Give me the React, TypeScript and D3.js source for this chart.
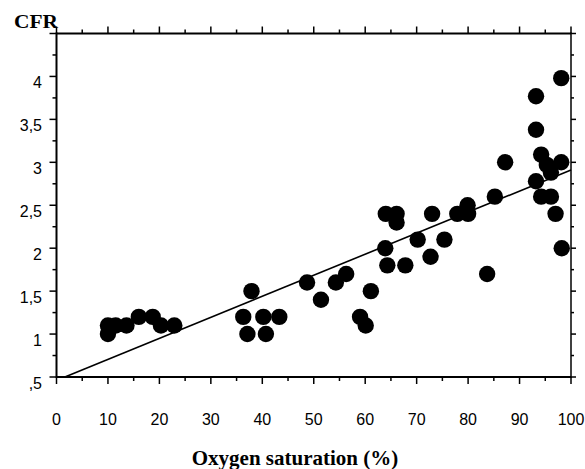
import React from "react";
import * as d3 from "d3";

const oxygenSat: number[] = [
  10, 10, 11.5, 13.6, 16, 18.7, 20.3, 22.9,
  37.9, 36.3, 37.1, 40.2, 40.7, 43.3,
  48.7, 51.4, 54.3, 56.3, 59, 60.1, 61.1,
  63.9, 64.3, 64.0, 66.1, 66.1, 67.8, 70.2, 72.7, 73.0, 75.4, 77.9, 80.0, 79.9, 83.7, 85.2,
  87.2, 93.2, 93.2, 93.2, 94.2, 95.3, 96.1, 98.1, 98.1, 94.2, 96.1, 97.0, 98.2,
];
const cfr: number[] = [
  1.1, 1.0, 1.1, 1.1, 1.2, 1.2, 1.1, 1.1,
  1.5, 1.2, 1.0, 1.2, 1.0, 1.2,
  1.6, 1.4, 1.6, 1.7, 1.2, 1.1, 1.5,
  2.0, 1.8, 2.4, 2.4, 2.3, 1.8, 2.1, 1.9, 2.4, 2.1, 2.4, 2.4, 2.5, 1.7, 2.6,
  3.0, 3.77, 3.38, 2.78, 3.09, 2.97, 2.88, 3.0, 3.98, 2.6, 2.6, 2.4, 2.0,
];
const xTickValues: number[] = [0, 10, 20, 30, 40, 50, 60, 70, 80, 90, 100];
const yTickValues: number[] = [0.5, 1, 1.5, 2, 2.5, 3, 3.5, 4];
const yTickLabels: string[] = [",5", "1", "1,5", "2", "2,5", "3", "3,5", "4"];
const fitIntercept = 0.46;
const fitSlope = 0.0245;

export default function App() {
  const W = 585, H = 469;
  const left = 56.5, right = 571, top = 33.5, bottom = 377;
  const x = d3.scaleLinear().domain([0, 100]).range([left, right]);
  const y = d3.scaleLinear().domain([0.5, 4.5]).range([bottom, top]);

  const xMinor = d3.range(0, 100.01, 5);
  const yMinor = d3.range(0.5, 4.51, 0.25);
  const isMajorX = (v: number) => Math.abs(v % 10) < 1e-6;
  const isMajorY = (v: number) => Math.abs((v * 2) % 1) < 1e-6;

  const xStart = (0.5 - fitIntercept) / fitSlope;
  const fitLine = d3.line<number>().x((v) => x(v)).y((v) => y(fitIntercept + fitSlope * v));

  const font = "'Liberation Sans', Arial, sans-serif";
  const serif = "'Liberation Serif', 'Times New Roman', serif";

  return (
    <svg width={W} height={H} style={{ position: "absolute", left: 0, top: 0, background: "#fff" }}>
      <rect x={0} y={0} width={W} height={H} fill="#fff" />
      {/* frame */}
      <line x1={left} x2={right} y1={top} y2={top} stroke="#000" strokeWidth={2} />
      <line x1={left} x2={right} y1={bottom} y2={bottom} stroke="#000" strokeWidth={2} />
      <line x1={left} x2={left} y1={top - 1} y2={bottom + 1} stroke="#000" strokeWidth={2} />
      <line x1={right} x2={right} y1={top - 1} y2={bottom + 1} stroke="#000" strokeWidth={1.5} />
      {/* x ticks top & bottom */}
      {xMinor.map((v, i) => {
        const len = isMajorX(v) ? 7 : 4;
        return (
          <g key={"xt" + i}>
            <line x1={x(v)} x2={x(v)} y1={top} y2={top - len} stroke="#000" strokeWidth={1.5} />
            <line x1={x(v)} x2={x(v)} y1={bottom} y2={bottom + len} stroke="#000" strokeWidth={1.5} />
          </g>
        );
      })}
      {/* y ticks left & right */}
      {yMinor.map((v, i) => {
        const len = isMajorY(v) ? 7 : 4;
        return (
          <g key={"yt" + i}>
            <line x1={left} x2={left - len} y1={y(v)} y2={y(v)} stroke="#000" strokeWidth={1.5} />
            <line x1={right} x2={right + (isMajorY(v) ? 5 : 3)} y1={y(v)} y2={y(v)} stroke="#000" strokeWidth={1.5} />
          </g>
        );
      })}
      {/* x labels */}
      {xTickValues.map((v, i) => (
        <text key={"xl" + i} x={x(v)} y={424.5} textAnchor="middle" fontFamily={font} fontSize={16} fill="#000">
          {v}
        </text>
      ))}
      {/* y labels */}
      {yTickValues.map((v, i) => (
        <text key={"yl" + i} x={42} y={y(v) + 11.5} textAnchor="end" fontFamily={font} fontSize={16} fill="#000">
          {yTickLabels[i]}
        </text>
      ))}
      {/* regression line */}
      <path d={fitLine([xStart, 100]) || ""} stroke="#000" strokeWidth={1.6} fill="none" />
      {/* points */}
      {oxygenSat.map((v, i) => (
        <circle key={"p" + i} cx={x(v)} cy={y(cfr[i])} r={8.2} fill="#000" />
      ))}
      {/* titles */}
      <text x={14} y={27.5} fontFamily={serif} fontWeight="bold" fontSize={19} textLength={44} lengthAdjust="spacingAndGlyphs" fill="#000">
        CFR
      </text>
      <text x={295} y={465} textAnchor="middle" fontFamily={serif} fontWeight="bold" fontSize={21} fill="#000">
        Oxygen saturation (%)
      </text>
    </svg>
  );
}
